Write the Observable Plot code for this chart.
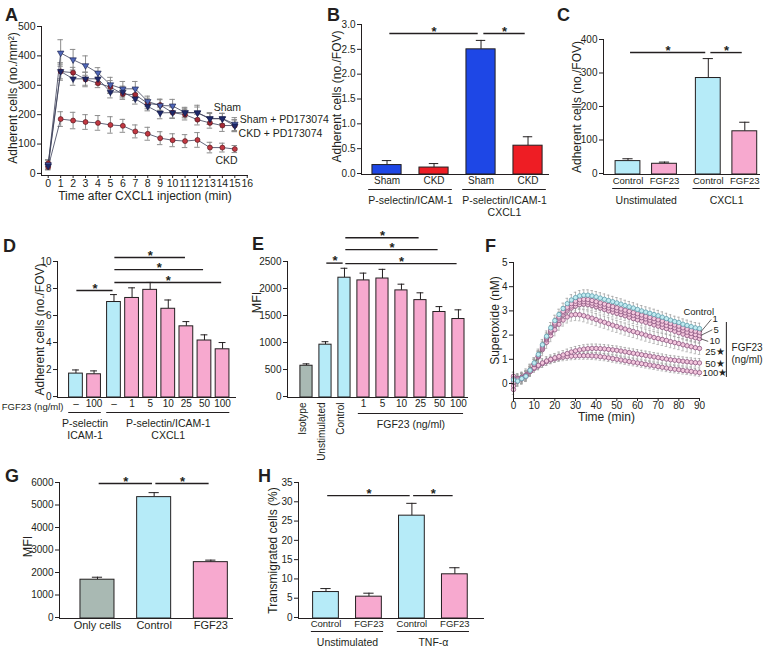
<!DOCTYPE html>
<html>
<head>
<meta charset="utf-8">
<script src="https://cdn.jsdelivr.net/npm/d3@7"></script>
<script src="https://cdn.jsdelivr.net/npm/@observablehq/plot@0.6"></script>
<style>
html,body{margin:0;padding:0;background:#fff;}
#fig{position:relative;width:764px;height:652px;overflow:hidden;background:#fff;}
#fig svg{position:absolute;overflow:visible;}
</style>
</head>
<body>
<div id="fig"></div>
<script>
// ================= DATA =================
// Panel A
const timeA = [0,1,2,3,4,5,6,7,8,9,10,11,12,13,14,15];
const shamA      = [30,410,387,367,342,302,288,288,245,231,230,207,207,187,187,168];
const shamPdA    = [25,347,322,322,322,277,277,254,228,206,207,207,206,186,186,162];
const ckdPdA     = [35,347,343,320,307,294,270,268,238,233,207,200,183,172,163,163];
const ckdA       = [22,185,180,175,172,165,162,143,135,120,113,110,114,88,88,83];
const shamSemA   = [15,45,35,33,18,25,25,25,18,22,22,18,25,20,18,22];
const shamPdSemA = [12,30,22,22,20,20,20,18,15,20,20,15,20,18,18,20];
const ckdPdSemA  = [12,25,18,25,15,22,18,20,18,18,18,18,18,18,20,20];
const ckdSemA    = [10,25,28,25,25,28,22,22,22,22,22,22,25,18,15,12];
const seriesA = ["Sham","Sham + PD173074","CKD + PD173074","CKD"];
const ticksAx = [0,1,2,3,4,5,6,7,8,9,10,11,12,13,14,15,16];
const ticksAy = [0,100,200,300,400,500];

// Panel B
const catsB = ["Sham","CKD","Sham","CKD"];
const valsB = [0.17,0.12,2.5,0.56];
const semB  = [0.09,0.08,0.18,0.18];
const ticksBy = [0,0.5,1,1.5,2,2.5,3];

// Panel C
const catsC = ["Control","FGF23","Control","FGF23"];
const valsC = [37,29,285,126];
const semC  = [7,5,58,27];
const ticksCy = [0,100,200,300,400];

// Panel D
const catsD = ["–","100","–","1","5","10","25","50","100"];
const valsD = [1.7,1.65,7.0,7.3,7.9,6.5,5.2,4.15,3.5];
const semD  = [0.27,0.25,0.55,0.75,0.55,0.65,0.35,0.42,0.5];
const ticksDy = [0,2,4,6,8,10];

// Panel E
const catsE = ["Isotype","Unstimulated","Control","1","5","10","25","50","100"];
const valsE = [570,960,2200,2150,2185,1965,1785,1565,1435];
const semE  = [35,55,175,135,170,115,135,100,170];
const ticksEy = [0,500,1000,1500,2000,2500];

// Panel F
const timeF = [0,2,4,6,8,10,12,14,16,18,20,22,24,26,28,30,32,34,36,38,40,42,44,46,48,50,52,54,56,58,60,62,64,66,68,70,72,74,76,78,80,82,84,86,88,90];
const fControl = [0.15,0.1,0.2,0.3,0.55,0.85,1.2,1.6,1.95,2.3,2.6,2.85,3.1,3.3,3.45,3.55,3.62,3.65,3.65,3.62,3.58,3.53,3.48,3.43,3.38,3.33,3.28,3.22,3.17,3.12,3.06,3.0,2.95,2.9,2.85,2.8,2.74,2.68,2.62,2.56,2.52,2.45,2.4,2.35,2.3,2.27];
const f1   = [0.05,0.15,0.2,0.3,0.5,0.8,1.15,1.55,1.9,2.2,2.5,2.75,2.98,3.15,3.3,3.4,3.46,3.48,3.47,3.43,3.38,3.33,3.28,3.23,3.18,3.13,3.08,3.03,2.98,2.93,2.88,2.83,2.78,2.73,2.68,2.63,2.58,2.53,2.48,2.42,2.37,2.3,2.25,2.2,2.16,2.12];
const f5   = [-0.1,0.1,0.2,0.3,0.5,0.78,1.12,1.5,1.85,2.15,2.45,2.7,2.92,3.08,3.2,3.3,3.36,3.38,3.36,3.32,3.27,3.22,3.17,3.12,3.07,3.02,2.97,2.92,2.87,2.82,2.77,2.72,2.67,2.62,2.56,2.5,2.45,2.4,2.35,2.3,2.24,2.18,2.12,2.07,2.02,1.98];
const f10  = [-0.25,0.2,0.25,0.32,0.52,0.8,1.1,1.45,1.8,2.1,2.4,2.62,2.84,3.0,3.12,3.2,3.26,3.28,3.26,3.22,3.17,3.12,3.06,3.0,2.95,2.9,2.85,2.8,2.74,2.68,2.63,2.58,2.53,2.48,2.42,2.37,2.32,2.27,2.22,2.16,2.1,2.04,1.98,1.93,1.89,1.85];
const f25  = [0.2,0.15,0.22,0.35,0.55,0.8,1.1,1.4,1.7,1.98,2.22,2.45,2.62,2.75,2.83,2.85,2.84,2.8,2.75,2.7,2.64,2.58,2.53,2.47,2.41,2.36,2.3,2.25,2.2,2.15,2.1,2.05,2.0,1.95,1.9,1.86,1.82,1.78,1.73,1.69,1.65,1.6,1.56,1.52,1.48,1.45];
const f50  = [0.3,0.2,0.25,0.35,0.5,0.65,0.75,0.85,0.93,1.0,1.06,1.12,1.18,1.24,1.3,1.35,1.39,1.42,1.44,1.45,1.45,1.44,1.43,1.41,1.39,1.37,1.34,1.31,1.28,1.25,1.22,1.19,1.16,1.13,1.1,1.07,1.04,1.01,0.98,0.96,0.94,0.92,0.9,0.88,0.86,0.85];
const f100 = [0.1,0.15,0.25,0.35,0.5,0.62,0.72,0.82,0.9,0.97,1.02,1.06,1.09,1.11,1.13,1.14,1.15,1.15,1.15,1.14,1.13,1.11,1.09,1.06,1.03,1.0,0.97,0.94,0.91,0.88,0.85,0.82,0.79,0.76,0.73,0.7,0.67,0.64,0.61,0.59,0.57,0.54,0.52,0.5,0.47,0.45];
const namesF = ["Control","1","5","10","25","50","100"];
const semF = [0.22,0.2,0.2,0.2,0.25,0.18,0.15];
const ticksFx = [0,10,20,30,40,50,60,70,80,90];
const ticksFy = [0,1,2,3,4,5];

// Panel G
const catsG = ["Only cells","Control","FGF23"];
const valsG = [1680,5350,2460];
const semG  = [110,200,90];
const ticksGy = [0,1000,2000,3000,4000,5000,6000];

// Panel H
const catsH = ["Control","FGF23","Control","FGF23"];
const valsH = [6.6,5.4,26.4,11.2];
const semH  = [0.9,0.9,3.2,1.7];
const ticksHy = [0,5,10,15,20,25,30,35];

// ================= STYLE =================
const ink = "#231f20";
const fontFam = '"Liberation Sans", Arial, Helvetica, sans-serif';
const cBlue = "#b6ebf8", cPink = "#f7a9cf", cGray = "#a9b9b3";
const cBlueB = "#1e47e6", cRedB = "#ee1d24";
const intFmt = d3.format("d");
const fig = document.getElementById("fig");

function place(p, left, top) {
  p.style.position = "absolute";
  p.style.left = left + "px";
  p.style.top = top + "px";
  p.style.maxWidth = "none";
  fig.appendChild(p);
}

function basePlot(o, marks) {
  const p = Plot.plot({
    width: o.width, height: o.height,
    marginLeft: o.ml, marginRight: o.mr, marginTop: o.mt, marginBottom: o.mb,
    x: {domain: o.xDomain, axis: null},
    y: {domain: o.yDomain},
    style: {fontFamily: fontFam, fontSize: "10px", color: ink, background: "transparent", overflow: "visible"},
    marks
  });
  place(p, o.left, o.top);
  return p;
}

function yTitle(label, dx, dy, size) {
  return Plot.text([label], {text: d => d, frameAnchor: "left", textAnchor: "middle", rotate: -90, dx, dy: dy || 0, fontSize: size || 12});
}

function barPanel(o) {
  const pos = o.values.map((_, i) => i + (o.groupOf ? o.groupOf[i] * o.gap : 0));
  const rows = o.values.map((v, i) => ({x: pos[i], v, e: o.errs[i], fill: o.fills[i], cat: o.cats[i], rot: o.rotCats ? o.rotCats[i] : false}));
  const y0 = o.yDomain[0];
  const marks = [
    Plot.ruleX(rows, {x: "x", y1: "v", y2: d => d.v + d.e, stroke: ink, strokeWidth: 1}),
    Plot.ruleY(rows, {y: d => d.v + d.e, x1: d => d.x - o.cap, x2: d => d.x + o.cap, stroke: ink, strokeWidth: 1}),
    Plot.rectY(rows, {x1: d => d.x - o.hw, x2: d => d.x + o.hw, y1: y0, y2: "v", fill: "fill", stroke: ink, strokeWidth: 1}),
    Plot.ruleX([o.xDomain[0]], {stroke: ink, strokeWidth: 1}),
    Plot.ruleY([y0], {stroke: ink, strokeWidth: 1}),
    Plot.axisY(o.yTicks, {tickSize: 4, tickPadding: 2, tickFormat: o.yFmt || intFmt, label: null, fontSize: 10}),
    yTitle(o.yLabel, o.ylDx, o.ylDy, o.ylSize),
    Plot.text(rows.filter(d => !d.rot), {x: "x", text: "cat", frameAnchor: "bottom", textAnchor: "middle", dy: o.catDy, fontSize: o.catSize})
  ];
  if (o.rotCats) marks.push(Plot.text(rows.filter(d => d.rot), {x: "x", text: "cat", frameAnchor: "bottom", rotate: -90, textAnchor: "end", dy: o.rotDy, fontSize: o.catSize}));
  if (o.groups) {
    marks.push(Plot.ruleY(o.groups, {y: () => y0, x1: g => pos[g.from] - o.ext, x2: g => pos[g.to] + o.ext, dy: o.ulDy, stroke: ink, strokeWidth: 1}));
    marks.push(Plot.text(o.groups, {x: g => (pos[g.from] + pos[g.to]) / 2, text: "label", frameAnchor: "bottom", textAnchor: "middle", lineAnchor: "top", dy: o.grDy, fontSize: o.grSize, lineHeight: 1.15}));
  }
  if (o.sig) {
    marks.push(Plot.ruleY(o.sig, {y: "y", x1: s => pos[s.from] + o.sigIn, x2: s => pos[s.to] - o.sigIn, stroke: ink, strokeWidth: 1.4}));
    marks.push(Plot.text(o.sig, {x: s => (pos[s.from] + pos[s.to]) / 2, y: "y", text: () => "*", dy: -2, fontSize: 13, fontWeight: "bold"}));
  }
  if (o.extra) marks.push(...o.extra);
  return basePlot(o, marks);
}

// ================= PANEL A =================
const valsA = [shamA, shamPdA, ckdPdA, ckdA];
const semsA = [shamSemA, shamPdSemA, ckdPdSemA, ckdSemA];
const colA = ["#4f67b8", "#1f2a6b", "#a52a36", "#c23842"];
const longA = valsA.flatMap((vals, k) => vals.map((v, i) => ({t: timeA[i], v, e: semsA[k][i], k, s: seriesA[k]})));
const labelsA = [
  {text: "Sham", t: 13.3, v: 225},
  {text: "Sham + PD173074", t: 15.4, v: 183},
  {text: "CKD + PD173074", t: 15.3, v: 135},
  {text: "CKD", t: 13.45, v: 44}
];
basePlot({left: 0, top: 0, width: 320, height: 210, ml: 41, mr: 72, mt: 26, mb: 35, xDomain: [-0.54, 16.1], yDomain: [-7, 500]}, [
  Plot.ruleX(longA, {x: "t", y1: d => d.v - d.e, y2: d => d.v + d.e, stroke: "#8c8c8c", strokeWidth: 1}),
  Plot.ruleY(longA, {y: d => d.v + d.e, x1: d => d.t - 0.22, x2: d => d.t + 0.22, stroke: "#8c8c8c"}),
  Plot.ruleY(longA, {y: d => d.v - d.e, x1: d => d.t - 0.22, x2: d => d.t + 0.22, stroke: "#8c8c8c"}),
  Plot.line(longA, {x: "t", y: "v", z: "s", stroke: "#3b3f58", strokeWidth: 0.8}),
  Plot.dot(longA.filter(d => d.k >= 2), {x: "t", y: "v", r: 2.5, fill: d => colA[d.k], stroke: "#4a1018", strokeWidth: 0.6}),
  Plot.dot(longA.filter(d => d.k < 2), {x: "t", y: "v", r: 2.4, symbol: "triangle", rotate: 180, fill: d => colA[d.k], stroke: "#141a45", strokeWidth: 0.6}),
  Plot.ruleX([-0.54], {stroke: ink}),
  Plot.ruleY([-7], {stroke: ink}),
  Plot.axisY(ticksAy, {tickSize: 4, tickPadding: 2, label: null, fontSize: 10.5}),
  Plot.axisX(ticksAx, {tickSize: 3, tickPadding: 1, label: null, fontSize: 10.5}),
  Plot.text(["Time after CXCL1 injection (min)"], {text: d => d, frameAnchor: "bottom", textAnchor: "middle", dy: 24, fontSize: 12}),
  yTitle("Adherent cells (no./mm²)", -28, -3, 12),
  Plot.text(labelsA, {x: "t", y: "v", text: "text", textAnchor: "start", fontSize: 10.5})
]);

// ================= PANEL B =================
barPanel({left: 290, top: 0, width: 270, height: 225, ml: 71, mr: 11, mt: 24, mb: 51,
  xDomain: [-0.543, 3.457], yDomain: [-0.02, 3],
  values: valsB, errs: semB, cats: catsB, fills: [cBlueB, cRedB, cBlueB, cRedB],
  hw: 0.31, cap: 0.1, yTicks: ticksBy, yFmt: d3.format(".1f"),
  yLabel: "Adherent cells (no./FOV)", ylDx: -24, ylDy: -3,
  catDy: 9, catSize: 10,
  groups: [{from: 0, to: 1, label: "P-selectin/ICAM-1"}, {from: 2, to: 3, label: "P-selectin/ICAM-1\nCXCL1"}],
  ext: 0.39, ulDy: 15, grDy: 21, grSize: 10.5,
  sig: [{from: 0, to: 2, y: 2.82}, {from: 2, to: 3, y: 2.82}], sigIn: 0.06
});

// ================= PANEL C =================
barPanel({left: 540, top: 0, width: 224, height: 215, ml: 63, mr: 4, mt: 39, mb: 41,
  xDomain: [-0.671, 3.63], yDomain: [-3, 400],
  values: valsC, errs: semC, cats: catsC, fills: [cBlue, cPink, cBlue, cPink],
  groupOf: [0, 0, 1, 1], gap: 0.2,
  hw: 0.34, cap: 0.14, yTicks: ticksCy,
  yLabel: "Adherent cells (no./FOV)", ylDx: -26,
  catDy: 9, catSize: 9.5,
  groups: [{from: 0, to: 1, label: "Unstimulated"}, {from: 2, to: 3, label: "CXCL1"}],
  ext: 0.42, ulDy: 14, grDy: 21, grSize: 10.5,
  sig: [{from: 0, to: 2, y: 361}, {from: 2, to: 3, y: 361}], sigIn: 0.07
});

// ================= PANEL D =================
barPanel({left: 0, top: 205, width: 245, height: 240, ml: 57, mr: 9, mt: 56, mb: 48,
  xDomain: [-1.02, 8.87], yDomain: [-0.07, 10],
  values: valsD, errs: semD, cats: catsD, fills: [cBlue, cPink, cBlue, cPink, cPink, cPink, cPink, cPink, cPink],
  groupOf: [0, 0, 1, 1, 1, 1, 1, 1, 1], gap: 0.1,
  hw: 0.38, cap: 0.19, yTicks: ticksDy,
  yLabel: "Adherent cells (no./FOV)", ylDx: -17,
  catDy: 9, catSize: 10,
  groups: [{from: 0, to: 1, label: "P-selectin\nICAM-1"}, {from: 2, to: 8, label: "P-selectin/ICAM-1\nCXCL1"}],
  ext: 0.4, ulDy: 15, grDy: 21, grSize: 10.5,
  sig: [{from: 0, to: 2, y: 7.85}, {from: 2, to: 6, y: 10.3}, {from: 2, to: 7, y: 9.4}, {from: 2, to: 8, y: 8.44}], sigIn: 0.05,
  extra: [Plot.text(["FGF23 (ng/ml)"], {text: d => d, frameAnchor: "bottom-left", textAnchor: "end", dx: 6, dy: 12, fontSize: 9.5})]
});

// ================= PANEL E =================
barPanel({left: 230, top: 205, width: 245, height: 240, ml: 57, mr: 7, mt: 56, mb: 48,
  xDomain: [-1, 8.53], yDomain: [-18, 2500],
  values: valsE, errs: semE, cats: catsE, fills: [cGray, cBlue, cBlue, cPink, cPink, cPink, cPink, cPink, cPink],
  rotCats: [true, true, true, false, false, false, false, false, false], rotDy: 5,
  hw: 0.32, cap: 0.18, yTicks: ticksEy,
  yLabel: "MFI", ylDx: -31, ylDy: -27, ylSize: 12.5,
  catDy: 9, catSize: 10,
  groups: [{from: 3, to: 8, label: "FGF23 (ng/ml)"}],
  ext: 0.27, ulDy: 16, grDy: 22, grSize: 10.5,
  sig: [{from: 1, to: 2, y: 2470}, {from: 2, to: 6, y: 2940}, {from: 2, to: 7, y: 2720}, {from: 2, to: 8, y: 2460}], sigIn: 0.07
});

// ================= PANEL F =================
const valsF = [fControl, f1, f5, f10, f25, f50, f100];
const longF = valsF.flatMap((vals, k) => vals.map((v, i) => ({t: timeF[i], v, e: semF[k], k, s: namesF[k]})));
const drawF = longF.slice().sort((a, b) => b.k - a.k);
const endF = valsF.map((vals, k) => ({k, v: vals[vals.length - 1]}));
const labelsF = [
  {k: 0, text: "Control", t: 82.2, v: 2.95, lead: false},
  {k: 1, text: "1", t: 96.3, v: 2.65, lead: true},
  {k: 2, text: "5", t: 96.8, v: 2.22, lead: true},
  {k: 3, text: "10", t: 94.8, v: 1.74, lead: true},
  {k: 4, text: "25★", t: 92.8, v: 1.32, lead: false},
  {k: 5, text: "50★", t: 92.8, v: 0.82, lead: false},
  {k: 6, text: "100★", t: 91.4, v: 0.42, lead: false}
];
basePlot({left: 480, top: 205, width: 284, height: 230, ml: 33, mr: 65, mt: 57, mb: 37, xDomain: [0, 90], yDomain: [-0.62, 5]}, [
  Plot.ruleX(drawF, {x: "t", y1: d => d.v - d.e, y2: d => d.v + d.e, stroke: "#9d9d9d", strokeWidth: 0.7}),
  Plot.ruleY(drawF, {y: d => d.v + d.e, x1: d => d.t - 0.6, x2: d => d.t + 0.6, stroke: "#9d9d9d", strokeWidth: 0.7}),
  Plot.ruleY(drawF, {y: d => d.v - d.e, x1: d => d.t - 0.6, x2: d => d.t + 0.6, stroke: "#9d9d9d", strokeWidth: 0.7}),
  Plot.line(longF, {x: "t", y: "v", z: "k", stroke: "#6a6a6a", strokeWidth: 0.6}),
  Plot.dot(drawF, {x: "t", y: "v", r: 2.2, fill: d => d.k === 0 ? "#c2ecf2" : "#f4c8de", stroke: d => d.k === 0 ? "#5f9fae" : "#8d5580", strokeWidth: 0.8}),
  Plot.ruleX([0], {stroke: ink}),
  Plot.ruleY([-0.62], {stroke: ink}),
  Plot.axisY(ticksFy, {tickSize: 4, tickPadding: 2, label: null, fontSize: 10}),
  Plot.axisX(ticksFx, {tickSize: 3, tickPadding: 0, label: null, fontSize: 10}),
  Plot.text(["Time (min)"], {text: d => d, frameAnchor: "bottom", textAnchor: "middle", dy: 22, fontSize: 12}),
  yTitle("Superoxide (nM)", -18, -10, 12),
  Plot.link(labelsF.filter(d => d.lead), {x1: () => 90.5, y1: d => endF[d.k].v, x2: d => d.t - 0.6, y2: d => d.v, stroke: ink, strokeWidth: 0.7}),
  Plot.text(labelsF, {x: "t", y: "v", text: "text", textAnchor: "start", fontSize: 9.5}),
  Plot.ruleX([103], {y1: 0.25, y2: 2.52, stroke: ink, strokeWidth: 1}),
  Plot.text(["FGF23\n(ng/ml)"], {text: d => d, x: () => 105.5, y: () => 1.24, textAnchor: "start", fontSize: 10, lineHeight: 1.2})
]);

// ================= PANEL G =================
barPanel({left: 0, top: 420, width: 245, height: 232, ml: 59, mr: 12, mt: 62, mb: 34,
  xDomain: [-0.67, 2.4], yDomain: [-44, 6000],
  values: valsG, errs: semG, cats: catsG, fills: [cGray, cBlue, cPink],
  hw: 0.3, cap: 0.09, yTicks: ticksGy,
  yLabel: "MFI", ylDx: -32, ylDy: -4, ylSize: 12.5,
  catDy: 10, catSize: 11,
  sig: [{from: 0, to: 1, y: 5956}, {from: 1, to: 2, y: 5956}], sigIn: 0.03
});

// ================= PANEL H =================
barPanel({left: 240, top: 420, width: 250, height: 232, ml: 58, mr: 6, mt: 62, mb: 34,
  xDomain: [-0.64, 3.69], yDomain: [-0.26, 35],
  values: valsH, errs: semH, cats: catsH, fills: [cBlue, cPink, cBlue, cPink],
  hw: 0.3, cap: 0.12, yTicks: ticksHy,
  yLabel: "Transmigrated cells (%)", ylDx: -25,
  catDy: 8, catSize: 9.5,
  groups: [{from: 0, to: 1, label: "Unstimulated"}, {from: 2, to: 3, label: "TNF-α"}],
  ext: 0.34, ulDy: 13, grDy: 19, grSize: 10.5,
  sig: [{from: 0, to: 2, y: 31.6}, {from: 2, to: 3, y: 31.6}], sigIn: 0.04
});

// ================= PANEL LETTERS =================
const letters = [
  {t: "A", x: 5, y: 21}, {t: "B", x: 327, y: 21}, {t: "C", x: 557, y: 21},
  {t: "D", x: 3, y: 252}, {t: "E", x: 252, y: 250}, {t: "F", x: 485, y: 252},
  {t: "G", x: 5, y: 482}, {t: "H", x: 258, y: 482}
];
const ov = d3.select(fig).append("svg").attr("width", 764).attr("height", 652)
  .style("left", "0px").style("top", "0px").style("pointer-events", "none");
ov.selectAll("text").data(letters).join("text")
  .attr("x", d => d.x).attr("y", d => d.y).text(d => d.t)
  .attr("font-family", fontFam).attr("font-weight", "bold").attr("font-size", 18).attr("fill", ink);
</script>
</body>
</html>
